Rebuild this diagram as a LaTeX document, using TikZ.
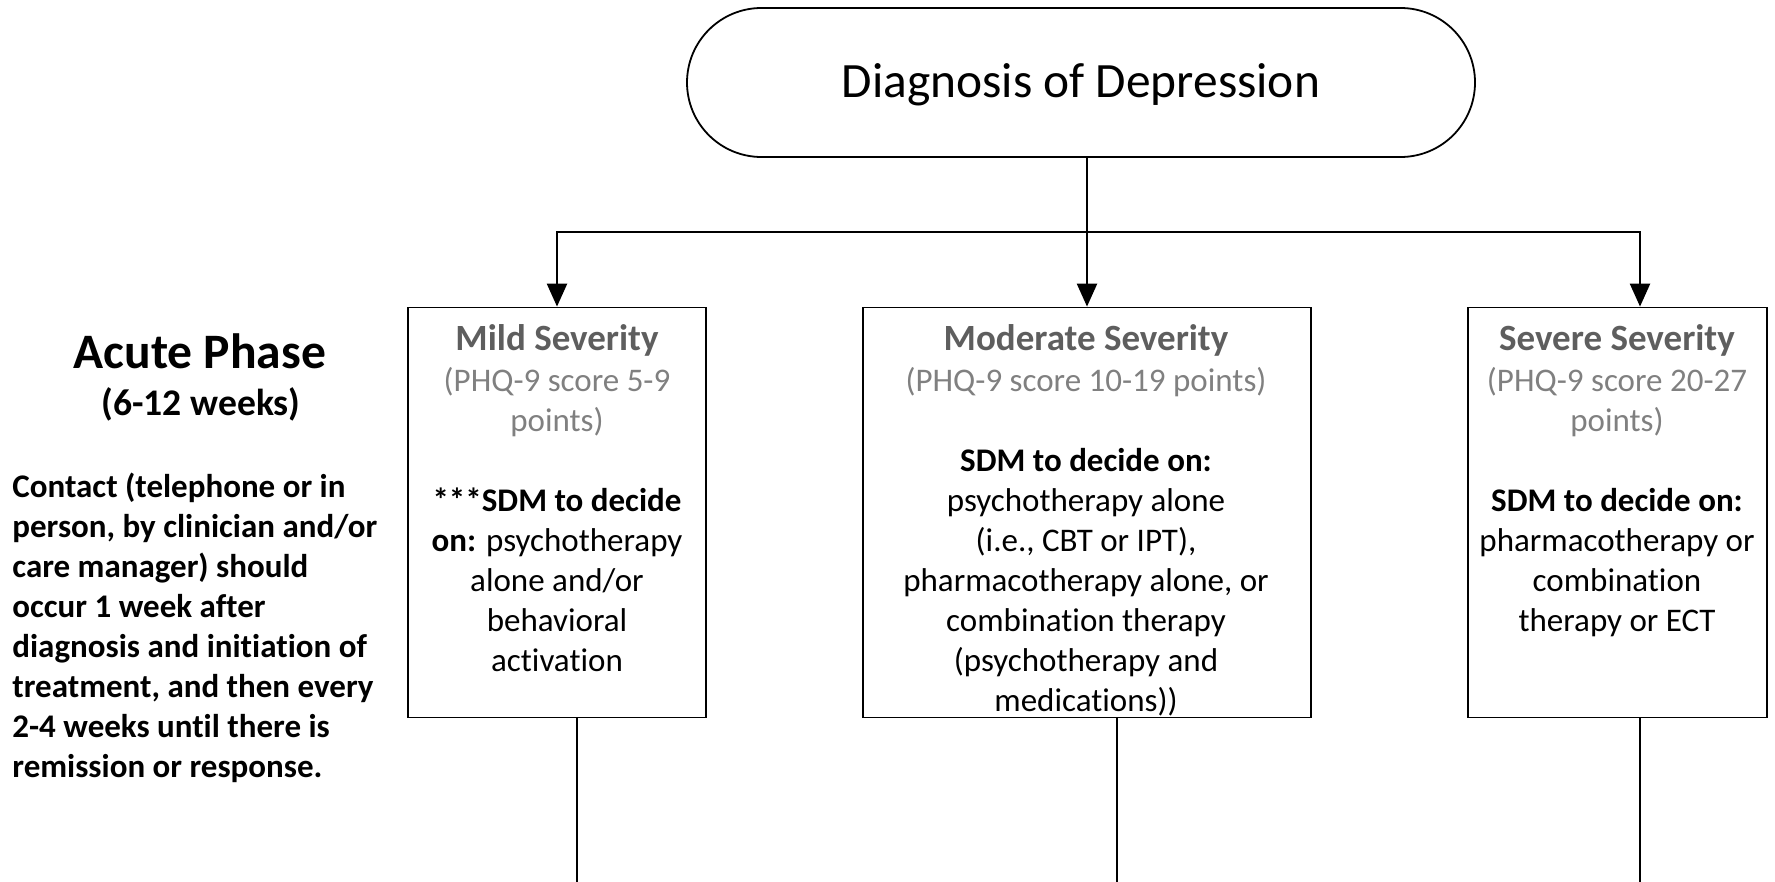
\documentclass[tikz,border=0pt]{standalone}
\usepackage{fontspec}
\setmainfont{Carlito}[Ligatures=NoCommon]
\usetikzlibrary{arrows.meta,shapes.misc}
\definecolor{headgray}{RGB}{94,94,94}
\definecolor{scoregray}{RGB}{128,128,128}
\tikzset{
  terminal/.style={rounded rectangle, draw, line width=0.9pt, inner sep=0pt,
    minimum width=394pt, minimum height=74.5pt, text height=20pt, text depth=4.5pt,
    font=\fontsize{24.7}{29}\selectfont},
  sevbox/.style={rectangle, draw, line width=0.9pt, inner sep=0pt, minimum height=205pt},
  boxtext/.style={anchor=north, inner sep=0pt, align=center, font=\fontsize{16.5}{20}\selectfont},
  flow/.style={line width=1.2pt, -{Triangle[length=11.5pt,width=10pt]}},
  link/.style={line width=1.2pt},
}
\newcommand\sevhead[1]{{\fontsize{18.5}{21}\selectfont\bfseries\color{headgray}\strut#1}}
\newcommand\score[1]{\textcolor{scoregray}{#1}}

\begin{document}
\begin{tikzpicture}[x=0.5pt,y=-0.5pt]
\useasboundingbox (0,0) rectangle (1775,882);

% start of the flow
\node[terminal] (diag) at (1081,82.5) {Diagnosis of Depression};

% severity boxes
\node[sevbox, minimum width=149pt] (mild) at (557,512.5) {};
\node[sevbox, minimum width=224pt] (mod) at (1087,512.5) {};
\node[sevbox, minimum width=149.5pt] (sev) at (1617.5,512.5) {};

\node[boxtext] (mildtxt) at (557,320.6) {\sevhead{Mild Severity}\\[0.5pt]
  \score{(PHQ-9 score 5-9}\\ \score{points)}\\ \\
  \textbf{***SDM to decide}\\ \textbf{on:} psychotherapy\\ alone and/or\\
  behavioral\\ activation};
\node[boxtext] (modtxt) at (1086,320.6) {\sevhead{Moderate Severity}\\[0.5pt]
  \score{(PHQ-9 score 10-19 points)}\\ \\
  \textbf{SDM to decide on:}\\ psychotherapy alone\\ (i.e., CBT or IPT),\\
  pharmacotherapy alone, or\\ combination therapy\\ (psychotherapy and\\ medications))};
\node[boxtext] (sevtxt) at (1617,320.6) {\sevhead{Severe Severity}\\[0.5pt]
  \score{(PHQ-9 score 20-27}\\ \score{points)}\\ \\
  \textbf{SDM to decide on:}\\ pharmacotherapy or\\ combination\\ therapy or ECT};

% phase description on the left
\node[anchor=base, inner sep=0pt, font=\fontsize{24.8}{29}\selectfont\bfseries] (phase) at (200,368) {Acute Phase};
\node[anchor=base, inner sep=0pt, font=\fontsize{18.8}{22}\selectfont\bfseries] (weeks) at (201,415) {(6-12 weeks)};
\node[anchor=north west, inner sep=0pt, align=left, font=\fontsize{16.5}{20}\selectfont\bfseries] (contact) at (12,469)
  {\strut Contact (telephone or in\\ person, by clinician and/or\\ care manager) should\\
   occur 1 week after\\ diagnosis and initiation of\\ treatment, and then every\\
   2-4 weeks until there is\\ remission or response.};

% branching connectors
\coordinate (split) at (1087,232);
\coordinate (mildin) at (557,232);
\coordinate (sevin) at (1640,232);
\draw[flow] (diag.south -| split) -- (split |- mod.north);
\draw[flow] (split) -- (mildin) -- (mildin |- mild.north);
\draw[flow] (split) -- (sevin) -- (sevin |- sev.north);

% lines continuing below the boxes
\coordinate (mildout) at (577,882);
\coordinate (modout) at (1117,882);
\coordinate (sevout) at (1640,882);
\draw[link] (mildout |- mild.south) -- (mildout);
\draw[link] (modout |- mod.south) -- (modout);
\draw[link] (sevout |- sev.south) -- (sevout);
\end{tikzpicture}
\end{document}
